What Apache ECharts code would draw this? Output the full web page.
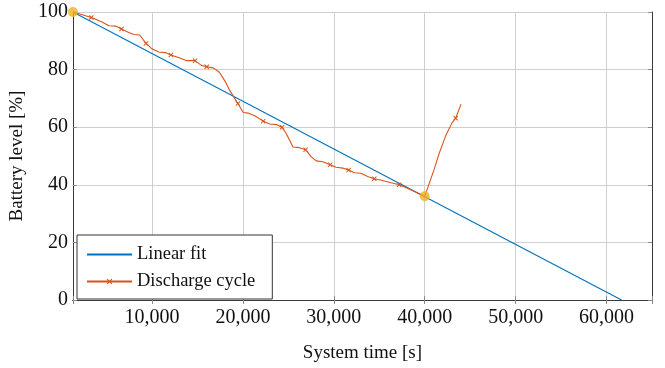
<!DOCTYPE html>
<html>
<head>
<meta charset="utf-8">
<script src="https://cdn.jsdelivr.net/npm/echarts@6/dist/echarts.min.js"></script>
<style>
  html, body { margin: 0; padding: 0; background: #fff; }
  #chart { width: 665px; height: 368px; }
</style>
</head>
<body>
<div id="chart"></div>
<script>
// ---- data ----
const xMin = 1300;
const xMax = 65000;
const linearFit = [[1300, 100], [61650, 0]];
const discharge = [
  [1300, 100], [1970, 99.4], [3320, 98.1], [4340, 96.8], [5260, 95.2], [6000, 95.1],
  [6640, 94.1], [7450, 92.9], [8000, 92.2], [8650, 92.0], [9340, 89.1], [10000, 87.2],
  [10730, 86.1], [11460, 85.9], [12080, 85.1], [12920, 84.2], [13830, 83.1], [14740, 83.1],
  [15470, 81.4], [16020, 81.0], [16750, 80.6], [17410, 79.1], [18030, 76.0], [18580, 72.6],
  [19450, 68.2], [20040, 65.1], [20580, 64.9], [21310, 64.0], [22230, 62.1], [22960, 61.1],
  [23690, 60.9], [24310, 60.0], [24780, 57.7], [25510, 53.1], [26240, 52.9], [26900, 52.2],
  [27520, 49.7], [28070, 48.3], [28800, 48.0], [29600, 47.0], [30260, 46.1], [30990, 45.8],
  [31640, 45.1], [32260, 44.2], [32990, 44.0], [33720, 42.9], [34450, 42.1], [35360, 41.5],
  [36090, 40.9], [37190, 40.0], [38280, 38.5], [40000, 36.0], [40500, 40.5], [41000, 45.0],
  [41600, 51.0], [42300, 57.0], [43000, 61.5], [43400, 63.1], [44000, 68.0]
];
const markerIdx = [2, 6, 10, 14, 17, 19, 24, 28, 31, 35, 39, 42, 46, 49, 57];
const fitPoints = [[1300, 100], [40000, 36.0]];
const yTicks = [0, 20, 40, 60, 80, 100];

const colBlue = '#0072BD', colOrange = '#D95319', colYellow = '#EDB120';
const font = '"Liberation Serif", "DejaVu Serif", serif';
const xSym = 'path://M0,1.4L1.4,0L5,3.6L8.6,0L10,1.4L6.4,5L10,8.6L8.6,10L5,6.4L1.4,10L0,8.6L3.6,5Z';

const dischargeData = discharge.map((p, i) =>
  markerIdx.includes(i) ? { value: p } : { value: p, symbol: 'none' });

const chart = echarts.init(document.getElementById('chart'), null, { renderer: 'canvas' });
const axisLineStyle = { color: '#3a3a3a', width: 1 };
const tickStyle = { color: '#8a8a8a', width: 1 };
const gridStyle = { color: '#cfcfcf', width: 1 };

chart.setOption({
  animation: false,
  backgroundColor: '#fff',
  grid: { left: 70, top: 12, right: 13, bottom: 65, containLabel: false },
  legend: {
    orient: 'vertical', left: 77, top: 235,
    data: [
      { name: 'Linear fit', itemStyle: { opacity: 0 } },
      { name: 'Discharge cycle' }
    ],
    itemWidth: 45, itemHeight: 7, itemGap: 8,
    padding: [10, 17, 8, 9],
    borderColor: '#333', borderWidth: 1, backgroundColor: '#fff',
    textStyle: { fontFamily: font, fontSize: 18.5, color: '#111' }
  },
  xAxis: [{
    type: 'value', min: xMin, max: xMax, splitNumber: 6,
    axisLine: { show: true, lineStyle: axisLineStyle },
    axisTick: { show: true, inside: true, length: 4, lineStyle: tickStyle },
    splitLine: { show: true, lineStyle: gridStyle },
    axisLabel: {
      margin: 8, fontFamily: font, fontSize: 20, color: '#111',
      formatter: v => (v % 10000 === 0 ? v.toLocaleString('en-US') : '')
    },
    name: 'System time [s]', nameLocation: 'middle', nameGap: 44,
    nameTextStyle: { fontFamily: font, fontSize: 19, color: '#111' }
  }, {
    type: 'value', min: xMin, max: xMax, splitNumber: 6, position: 'top',
    axisLine: { show: true, lineStyle: axisLineStyle },
    axisTick: { show: true, inside: true, length: 4, lineStyle: tickStyle },
    splitLine: { show: false }, axisLabel: { show: false }
  }],
  yAxis: [{
    type: 'value', min: 0, max: 100, interval: 20,
    axisLine: { show: true, lineStyle: axisLineStyle },
    axisTick: { show: true, inside: true, length: 4, lineStyle: tickStyle },
    splitLine: { show: true, lineStyle: gridStyle },
    axisLabel: { margin: 5, fontFamily: font, fontSize: 20, color: '#111',
      formatter: v => (yTicks.includes(v) ? String(v) : '') },
    name: 'Battery level [%]', nameLocation: 'middle', nameGap: 35,
    nameTextStyle: { fontFamily: font, fontSize: 19, color: '#111' }
  }, {
    type: 'value', min: 0, max: 100, interval: 20, position: 'right',
    axisLine: { show: true, lineStyle: axisLineStyle },
    axisTick: { show: true, inside: true, length: 4, lineStyle: tickStyle },
    splitLine: { show: false }, axisLabel: { show: false }
  }],
  series: [{
    name: 'Linear fit', type: 'line', data: linearFit, symbol: 'none',
    lineStyle: { color: colBlue, width: 1.1 }, itemStyle: { color: colBlue }, z: 3
  }, {
    name: 'Discharge cycle', type: 'line', data: dischargeData,
    symbol: xSym, symbolSize: 5, showAllSymbol: true,
    lineStyle: { color: colOrange, width: 1.1 }, itemStyle: { color: colOrange }, z: 4
  }, {
    name: 'fit points', type: 'scatter', data: fitPoints, symbol: 'circle', symbolSize: 10,
    itemStyle: { color: colYellow }, z: 5
  }]
});
</script>
</body>
</html>
